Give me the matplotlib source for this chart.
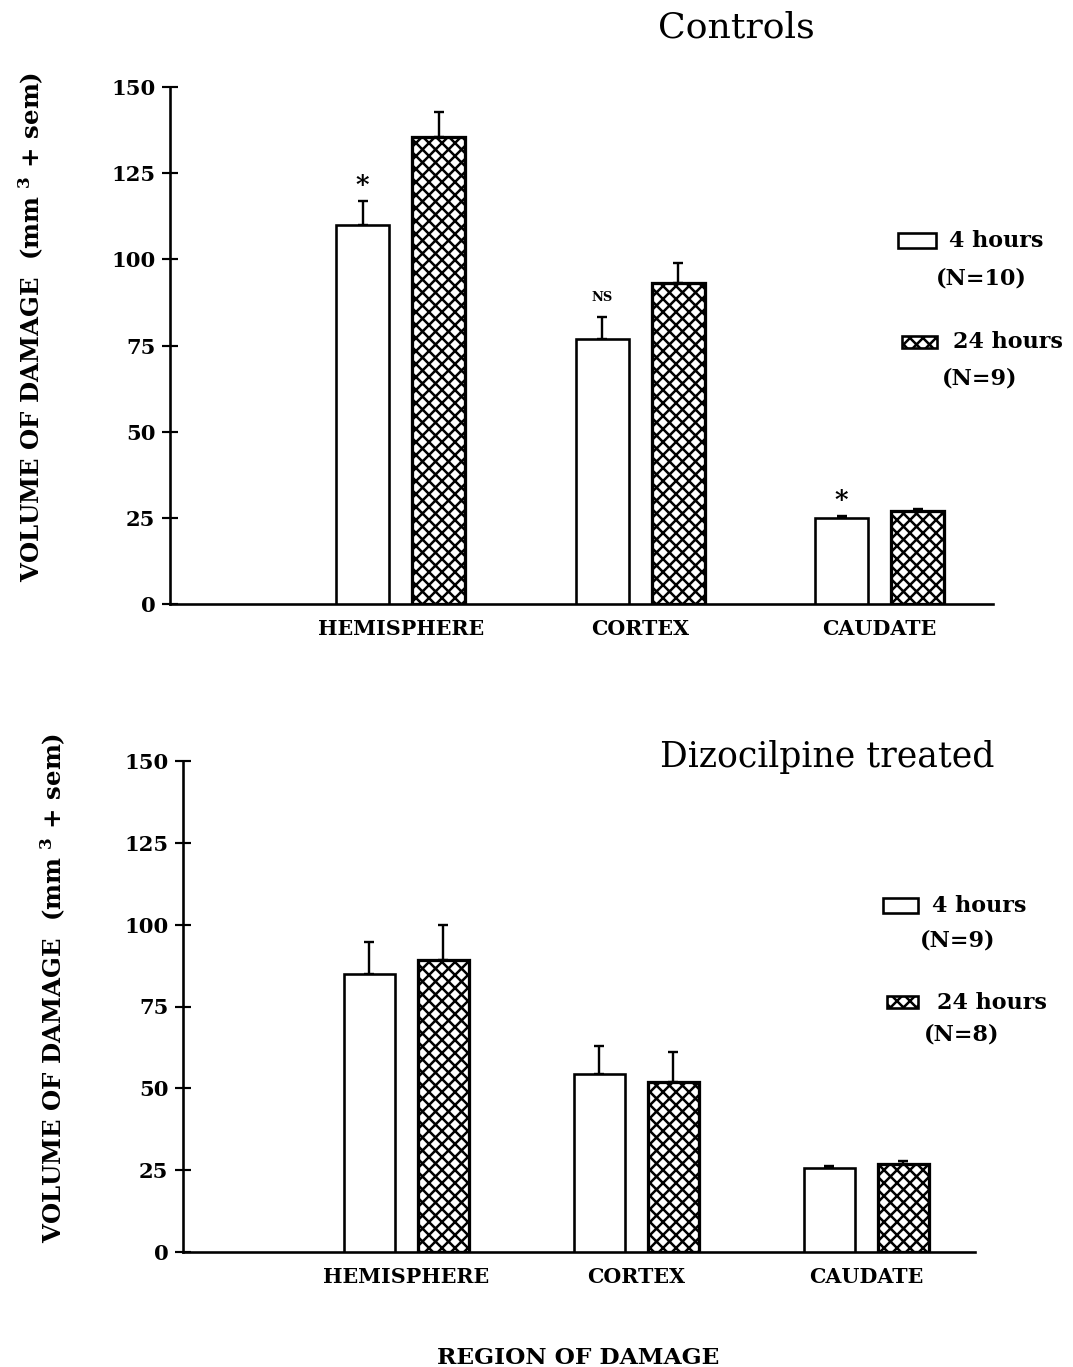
import matplotlib
matplotlib.use("Agg")
import matplotlib.pyplot as plt
from matplotlib.patches import Rectangle
import numpy as np

# data (mm^3, mean and sem)
regions = ["HEMISPHERE", "CORTEX", "CAUDATE"]

ctrl_4h = [110.0, 77.0, 24.9]
ctrl_4h_sem = [7.0, 6.3, 0.6]
ctrl_24h = [135.5, 93.0, 27.0]
ctrl_24h_sem = [7.2, 5.9, 0.6]
ctrl_marks = ["*", "NS", "*"]

dizo_4h = [85.0, 54.4, 25.7]
dizo_4h_sem = [9.7, 8.5, 0.6]
dizo_24h = [89.2, 51.9, 26.9]
dizo_24h_sem = [10.7, 9.2, 0.9]

yticks = [0, 25, 50, 75, 100, 125, 150]

W, H, DPI = 1073, 1367, 78

plt.rcParams["font.family"] = ["DejaVu Serif"]
plt.rcParams["font.weight"] = "bold"
plt.rcParams["hatch.linewidth"] = 2.3
plt.rcParams["mathtext.default"] = "regular"

fig = plt.figure(figsize=(W / DPI, H / DPI), dpi=DPI)


def box(left, top, right, bottom):
    # pixel box -> figure fraction [l, b, w, h]
    return [left / W, 1 - bottom / H, (right - left) / W, (bottom - top) / H]


def fxy(x, y):
    return x / W, 1 - y / H


def panel(rect, xlim, v4, s4, v24, s24, width, offset, marks=None):
    ax = fig.add_axes(rect)
    x = np.arange(len(regions))
    ax.bar(x - offset, v4, width, color="white", edgecolor="black", linewidth=2.4, zorder=3)
    ax.bar(x + offset, v24, width, color="white", edgecolor="black", hatch="xx", linewidth=3.0, zorder=3)
    ax.errorbar(x - offset, v4, yerr=[np.zeros(len(v4)), s4], fmt="none", ecolor="black",
                elinewidth=2.2, capsize=5, capthick=2.2, zorder=2)
    ax.errorbar(x + offset, v24, yerr=[np.zeros(len(v24)), s24], fmt="none", ecolor="black",
                elinewidth=2.2, capsize=5, capthick=2.2, zorder=2)
    if marks:
        for xi, v, s, m in zip(x - offset, v4, s4, marks):
            fs = 24 if m == "*" else 12
            dy = 14 if m == "*" else 18
            ax.annotate(m, (xi, v + s), xytext=(0, dy), textcoords="offset points",
                        ha="center", va="center", fontsize=fs, fontweight="bold")
    ax.set_xlim(*xlim)
    ax.set_ylim(0, 150)
    ax.set_yticks(yticks)
    ax.set_xticks(x)
    ax.set_xticklabels(regions, fontsize=19)
    ax.tick_params(axis="x", length=0, pad=14)
    ax.tick_params(axis="y", direction="inout", length=15, width=2, labelsize=19.5, pad=6)
    for side in ("top", "right"):
        ax.spines[side].set_visible(False)
    for side in ("left", "bottom"):
        ax.spines[side].set_linewidth(2.4)
    return ax


panel(box(170, 87, 993, 604), (-0.964, 2.473), ctrl_4h, ctrl_4h_sem, ctrl_24h, ctrl_24h_sem,
      0.221, 0.159, ctrl_marks)
panel(box(183, 761, 975, 1252), (-0.971, 2.473), dizo_4h, dizo_4h_sem, dizo_24h, dizo_24h_sem,
      0.222, 0.161)

# titles
fig.text(*fxy(736, 27), "Controls", ha="center", va="center", fontsize=33.5, fontweight="normal")
fig.text(*fxy(827, 757), "Dizocilpine treated", ha="center", va="center", fontsize=32,
         fontweight="normal")

# y labels and shared x label
ylab = "VOLUME OF DAMAGE  (mm $^{3}$ + sem)"
fig.text(*fxy(31, 327), ylab, rotation=90, ha="center", va="center", fontsize=22.5)
fig.text(*fxy(53, 988), ylab, rotation=90, ha="center", va="center", fontsize=22.5)
fig.text(*fxy(578, 1358), "REGION OF DAMAGE", ha="center", va="center", fontsize=21.5)


# hand drawn legends
def key(l, t, r, b, hatch=None):
    x0, y0 = fxy(l, b)
    x1, y1 = fxy(r, t)
    fig.add_artist(Rectangle((x0, y0), x1 - x0, y1 - y0, transform=fig.transFigure,
                             facecolor="white", edgecolor="black", linewidth=2.4, hatch=hatch))


key(898, 233, 936, 248)
fig.text(*fxy(949, 241), "4 hours", ha="left", va="center", fontsize=20.5)
fig.text(*fxy(981, 278), "(N=10)", ha="center", va="center", fontsize=20.5)
key(902, 336, 937, 348, "xx")
fig.text(*fxy(953, 342), "24 hours", ha="left", va="center", fontsize=20.5)
fig.text(*fxy(980, 378), "(N=9)", ha="center", va="center", fontsize=20.5)

key(883, 898, 918, 913)
fig.text(*fxy(932, 906), "4 hours", ha="left", va="center", fontsize=20.5)
fig.text(*fxy(958, 940), "(N=9)", ha="center", va="center", fontsize=20.5)
key(887, 996, 918, 1008, "xx")
fig.text(*fxy(937, 1003), "24 hours", ha="left", va="center", fontsize=20.5)
fig.text(*fxy(962, 1034), "(N=8)", ha="center", va="center", fontsize=20.5)

fig.savefig("out.png", dpi=DPI)
